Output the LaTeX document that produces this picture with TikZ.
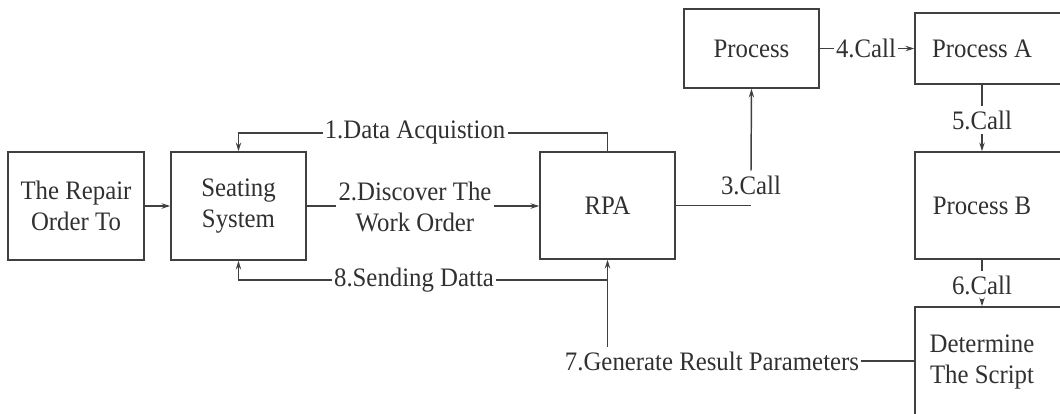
\documentclass[tikz,border=0pt]{standalone}
\usepackage{fontspec}
\setmainfont[FakeStretch=0.93]{Liberation Serif}
\usetikzlibrary{arrows.meta}
\definecolor{linec}{HTML}{404040}
\definecolor{textc}{HTML}{303030}
\begin{document}
\begin{tikzpicture}[x=0.75pt,y=-0.75pt,
  every node/.style={font=\fontsize{20}{23.25}\selectfont, text=textc},
  box/.style={draw=linec, line width=1.1pt, inner sep=0pt, align=center},
  txt/.style={inner sep=0pt, align=center},
  lbl/.style={inner xsep=1.5pt, inner ysep=3.5pt, align=center},
  conn/.style={draw=linec, line width=1.1pt},
  arr/.style={conn, -{Stealth[length=6.5pt,width=4pt]}}]
\useasboundingbox (0,0) rectangle (1060,414);
% boxes
\node[box, minimum width=102pt, minimum height=81pt] (rep) at (76,206) {The Repair\\Order To};
\node[box, minimum width=101.25pt, minimum height=81pt] (seat) at (238.5,206) {Seating\\System};
\node[box, minimum width=101.25pt, minimum height=80.25pt] (rpa) at (607.5,205.5) {RPA};
\node[box, minimum width=101.25pt, minimum height=59.25pt] (proc) at (751.5,48.5) {Process};
\node[box, minimum width=120pt, minimum height=53.25pt] (pa) at (995,48.5) {};
\node[txt] (pat) at (982,48.5) {Process A};
\node[box, minimum width=120pt, minimum height=80.25pt] (pb) at (995,205.5) {};
\node[txt] (pbt) at (982,206) {Process B};
\node[box, minimum width=120pt, minimum height=92.25pt] (det) at (995,368.5) {};
\node[txt] (dett) at (982,362) {Determine\\The Script};
% labels
\node[lbl] (l1) at (415,133) {1.Data Acquistion};
\node[lbl] (l2) at (415,207) {2.Discover The\\Work Order};
\node[lbl] (l3) at (751,185) {3.Call};
\node[lbl] (l4) at (866,48.5) {4.Call};
\node[lbl] (l5) at (982,120) {5.Call};
\node[lbl] (l6) at (982,285) {6.Call};
\node[lbl] (l7) at (712,361) {7.Generate Result Parameters};
\node[lbl] (l8) at (414,280) {8.Sending Datta};
\coordinate (j8) at (607.5,280);
% connectors
\draw[arr] (rep) -- (seat);
\draw[conn] (seat.east) -- (l2.west |- seat.east);
\draw[arr] (l2.east |- seat.east) -- (rpa.west |- seat.east);
\draw[conn] (rpa.north) |- (l1.east);
\draw[arr] (l1.west) -| (seat.north);
\draw[conn] (j8) -- (l8.east);
\draw[arr] (l8.west) -| (seat.south);
\draw[conn] (det.west |- l7.east) -- (l7.east);
\draw[arr] (l7.north -| rpa.south) -- (rpa.south);
\draw[conn] (rpa.east) -- (rpa.east -| l3.south);
\draw[arr] (l3.north) -- (proc.south);
\draw[conn] (proc.east) -- (l4.west);
\draw[arr] (l4.east) -- (pa.west);
\draw[conn] (pat |- pa.south) -- (l5.north);
\draw[arr] (l5.south) -- (pat |- pb.north);
\draw[conn] (pbt |- pb.south) -- (l6.north);
\draw[arr] (l6.south) -- (pbt |- det.north);
\end{tikzpicture}
\end{document}
